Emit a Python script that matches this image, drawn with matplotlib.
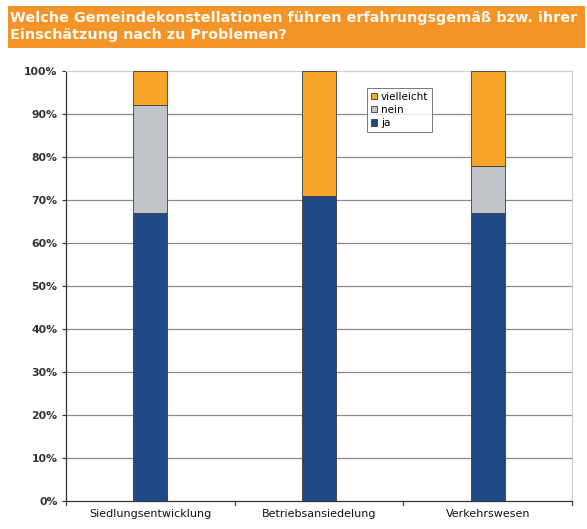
import matplotlib
matplotlib.use("Agg")
import matplotlib.pyplot as plt
from matplotlib.patches import Rectangle
import numpy as np

categories = ["Siedlungsentwicklung", "Betriebsansiedelung", "Verkehrswesen"]
ja = [67, 71, 67]
nein = [25, 0, 11]
vielleicht = [8, 29, 22]
yticks = [0, 10, 20, 30, 40, 50, 60, 70, 80, 90, 100]
title = "Welche Gemeindekonstellationen führen erfahrungsgemäß bzw. ihrer\nEinschätzung nach zu Problemen?"

c_ja = "#1f4a85"
c_nein = "#c0c3c7"
c_viel = "#f8a52c"

fig = plt.figure(figsize=(5.87, 5.29), dpi=100)

# title banner
fig.patches.append(Rectangle((8/587, 1-48/529), (585-8)/587, 42/529,
                             transform=fig.transFigure, facecolor="#f39429",
                             edgecolor="none", zorder=0))
fig.text(10/587, 1-26.5/529, title, color="#fff8ee", fontsize=10.4, fontweight="bold",
         va="center", ha="left", linespacing=1.2, family="DejaVu Sans")

ax = fig.add_axes([66/587, 1-501/529, (572-66)/587, (501-71)/529])
x = np.arange(len(categories))
w = 0.2
ja_a = np.array(ja); nein_a = np.array(nein); viel_a = np.array(vielleicht)
ax.bar(x, ja_a, w, color=c_ja, edgecolor="#3a3a3a", linewidth=0.6, label="ja", zorder=3)
ax.bar(x, nein_a, w, bottom=ja_a, color=c_nein, edgecolor="#3a3a3a", linewidth=0.6, label="nein", zorder=3)
ax.bar(x, viel_a, w, bottom=ja_a + nein_a, color=c_viel, edgecolor="#3a3a3a", linewidth=0.6, label="vielleicht", zorder=3)

ax.set_xlim(-0.5, len(categories) - 0.5)
ax.set_ylim(0, 100)
ax.set_yticks(yticks)
ax.set_yticklabels([f"{v}%" for v in yticks], fontsize=7.8, fontweight="bold", color="#333333")
ax.set_xticks(x)
ax.set_xticklabels(categories, fontsize=8, color="#111111")
ax.tick_params(axis="x", length=0, pad=6)
ax.tick_params(axis="y", length=3, width=0.8, color="#333333", pad=3)
for b in [-0.5, 0.5, 1.5, 2.5]:
    ax.plot([b, b], [0, -1.0], color="#333333", lw=0.8, clip_on=False)
for v in yticks[1:-1]:
    ax.axhline(v, color="#8a8a8a", linewidth=0.9, zorder=0)
for s in ["top", "right"]:
    ax.spines[s].set_color("#cfcfcf")
    ax.spines[s].set_linewidth(0.9)
for s in ["left", "bottom"]:
    ax.spines[s].set_color("#333333")
    ax.spines[s].set_linewidth(0.9)

h, l = ax.get_legend_handles_labels()
leg = ax.legend(h[::-1], l[::-1], loc="upper left",
                bbox_to_anchor=((367-66)/(572-66), (501-88)/(501-71)),
                fontsize=7.5, frameon=True, fancybox=False, edgecolor="#555555",
                handlelength=0.6, handleheight=0.6, handletextpad=0.4,
                labelspacing=0.3, borderpad=0.35, borderaxespad=0)
leg.get_frame().set_linewidth(0.7)

fig.savefig("out.png", dpi=100)
